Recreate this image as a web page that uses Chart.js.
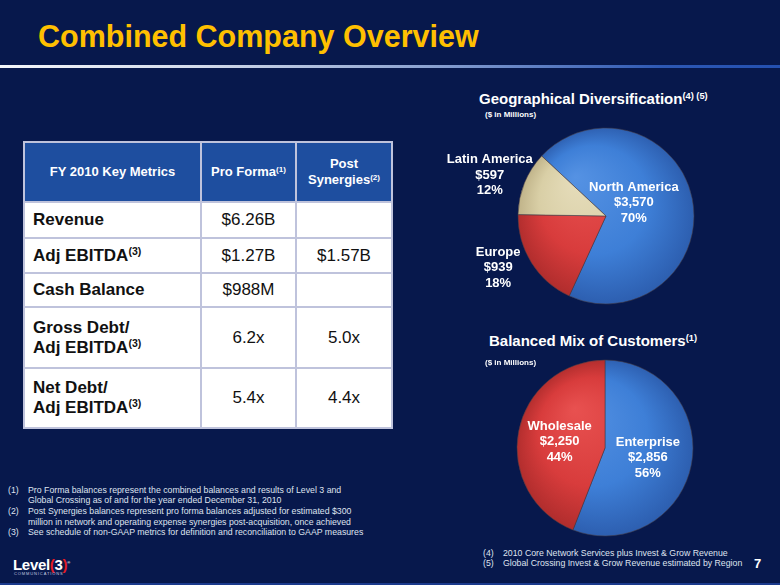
<!DOCTYPE html>
<html>
<head>
<meta charset="utf-8">
<title>Combined Company Overview</title>
<script src="https://cdn.jsdelivr.net/npm/chart.js@4.4.1/dist/chart.umd.min.js"></script>
<style>
  body {
    margin: 0;
    width: 780px;
    height: 585px;
    overflow: hidden;
    position: relative;
    background: #07184c;
    font-family: Arial, "Liberation Sans", sans-serif;
  }
  .abs { position: absolute; white-space: nowrap; }
  .title {
    left: 38px; top: 21px;
    font-size: 30.5px; line-height: 30px; font-weight: bold;
    color: #ffc000;
  }
  .rule {
    left: 0; top: 65px; width: 780px; height: 3px;
    background: linear-gradient(to right, #f4f6fa 0%, #d3dbeb 25%, #8aa1d0 55%, #2d58b4 85%, #2450b0 100%);
  }
  .chart-title {
    font-size: 15px; line-height: 18px; font-weight: bold; color: #ffffff;
  }
  .chart-title sup, .metrics sup {
    font-size: 0.62em; vertical-align: 0.55em; line-height: 0;
  }
  .units {
    font-size: 8px; line-height: 10px; font-weight: bold; color: #ffffff;
  }
  canvas { position: absolute; }
  table.metrics {
    position: absolute; left: 23px; top: 141px; width: 368px;
    border-collapse: collapse; table-layout: fixed;
  }
  .metrics th, .metrics td { border: 2px solid #bfc3dc; padding: 0; }
  .metrics th {
    background: #1e4e9f; color: #ffffff;
    font-size: 13px; line-height: 16.5px; font-weight: bold; text-align: center;
  }
  .metrics td { background: #ffffff; color: #111111; font-size: 17px; line-height: 20px; text-align: center; }
  .metrics td.name { font-weight: bold; text-align: left; padding-left: 8px; }
  .note {
    font-size: 8.75px; line-height: 10.7px; color: #dfe3ef;
  }
  .note span { display: inline-block; width: 20px; }
  .logo { left: 13px; top: 555px; font-size: 15px; line-height: 16px; font-weight: bold; color: #ffffff; letter-spacing: -0.3px; }
  .logo b { color: #e31b23; }
  .logo-sub { left: 14px; top: 572px; font-size: 4px; line-height: 4px; letter-spacing: 0.9px; color: #c8cde0; }
  .page { left: 754px; top: 557px; font-size: 13px; line-height: 14px; font-weight: bold; color: #ffffff; }
  .bottom-band { left: 0; top: 583px; width: 780px; height: 2px; background: #1a3a8c; }
</style>
</head>
<body>

<div class="abs title">Combined Company Overview</div>
<div class="abs rule"></div>

<table class="metrics" id="metrics"></table>

<canvas id="geoChart" width="360" height="195" style="left:420px; top:120px;"></canvas>
<canvas id="mixChart" width="360" height="190" style="left:420px; top:355px;"></canvas>

<div class="abs chart-title" style="left:479px; top:90px;">Geographical Diversification<sup>(4) (5)</sup></div>
<div class="abs units" style="left:485px; top:110px;">($ in Millions)</div>
<div class="abs chart-title" style="left:489px; top:332px;">Balanced Mix of Customers<sup>(1)</sup></div>
<div class="abs units" style="left:485px; top:358px;">($ in Millions)</div>

<div class="abs note" style="left:8px; top:484.6px;">
  <span>(1)</span>Pro Forma balances represent the combined balances and results of Level 3 and<br>
  <span></span>Global Crossing as of and for the year ended December 31, 2010<br>
  <span>(2)</span>Post Synergies balances represent pro forma balances adjusted for estimated $300<br>
  <span></span>million in network and operating expense synergies post-acquisition, once achieved<br>
  <span>(3)</span>See schedule of non-GAAP metrics for definition and reconciliation to GAAP measures
</div>

<div class="abs note" style="left:483px; top:547.6px;">
  <span>(4)</span>2010 Core Network Services plus Invest &amp; Grow Revenue<br>
  <span>(5)</span>Global Crossing Invest &amp; Grow Revenue estimated by Region
</div>

<div class="abs logo">Level<b>(</b>3<b>)</b><sup style="font-size:4px;">&reg;</sup></div>
<div class="abs logo-sub">COMMUNICATIONS</div>
<div class="abs page">7</div>
<div class="abs bottom-band"></div>

<script>
// Key metrics table
const tableHeaders = ['FY 2010 Key Metrics', 'Pro Forma(1)', 'Post\nSynergies(2)'];
const metricNames = ['Revenue', 'Adj EBITDA(3)', 'Cash Balance', 'Gross Debt/\nAdj EBITDA(3)', 'Net Debt/\nAdj EBITDA(3)'];
const proForma = ['$6.26B', '$1.27B', '$988M', '6.2x', '5.4x'];
const postSynergies = ['', '$1.57B', '', '5.0x', '4.4x'];

// Geographical diversification ($ in millions)
const geoRegions = ['North America', 'Europe', 'Latin America'];
const geoRevenue = [3570, 939, 597];

// Customer mix ($ in millions)
const customerTypes = ['Enterprise', 'Wholesale'];
const customerRevenue = [2856, 2250];

const fmt = s => s.replace(/\((\d)\)/g, '<sup>($1)</sup>').replace(/\n/g, '<br>');

function buildTable() {
    const table = document.getElementById('metrics');
    const colWidths = [177, 95, 96];
    const rowHeights = [36, 35, 34, 61, 60];
    let html = '<colgroup>' + colWidths.map(w => `<col style="width:${w}px">`).join('') + '</colgroup>';
    html += '<tr style="height:60px">' + tableHeaders.map(h => `<th>${fmt(h)}</th>`).join('') + '</tr>';
    metricNames.forEach((name, i) => {
        html += `<tr style="height:${rowHeights[i]}px">
            <td class="name">${fmt(name)}</td>
            <td>${proForma[i]}</td>
            <td>${postSynergies[i]}</td>
        </tr>`;
    });
    table.innerHTML = html;
}

// shaded fill, a bit lighter towards the top-left like the slide's 3D pies
const palettes = {
    blue: ['#5592e3', '#3e7fd7', '#2c5dae'],
    red: ['#e85150', '#d83c3c', '#ae2c2c'],
    tan: ['#e6ddbb', '#d9cfa6', '#bdb086']
};

function shaded(names) {
    return (c) => {
        const p = palettes[names[c.dataIndex]];
        const area = c.chart.chartArea;
        if (!area) return p[1];
        const cx = (area.left + area.right) / 2;
        const cy = (area.top + area.bottom) / 2;
        const r = c.chart.getDatasetMeta(0).data[0]?.outerRadius || 88;
        const g = c.chart.ctx.createRadialGradient(cx - 0.35 * r, cy - 0.45 * r, 0, cx, cy, r * 1.03);
        g.addColorStop(0, p[0]);
        g.addColorStop(0.6, p[1]);
        g.addColorStop(1, p[2]);
        return g;
    };
}

// label each slice with name, value and share
function sliceLabels(place) {
    return {
        id: 'sliceLabels',
        afterDatasetsDraw(chart) {
            const ctx = chart.ctx;
            const values = chart.data.datasets[0].data;
            const total = values.reduce((s, v) => s + v, 0);
            ctx.save();
            ctx.font = 'bold 13px Arial, "Liberation Sans", sans-serif';
            ctx.fillStyle = '#ffffff';
            ctx.textAlign = 'center';
            ctx.textBaseline = 'middle';
            chart.getDatasetMeta(0).data.forEach((arc, i) => {
                const angle = (arc.startAngle + arc.endAngle) / 2 + place.nudge[i] * Math.PI / 180;
                const dist = arc.outerRadius * place.dist[i];
                const x = arc.x + Math.cos(angle) * dist;
                const y = arc.y + Math.sin(angle) * dist;
                const lines = [
                    chart.data.labels[i],
                    '$' + values[i].toLocaleString('en-US'),
                    Math.round(values[i] / total * 100) + '%'
                ];
                lines.forEach((t, j) => ctx.fillText(t, x, y + (j - 1) * 15.5));
            });
            ctx.restore();
        }
    };
}

function makePie(id, labels, values, colors, rotation, padding, place) {
    return new Chart(document.getElementById(id), {
        type: 'pie',
        data: {
            labels: labels,
            datasets: [{
                data: values,
                backgroundColor: shaded(colors),
                borderColor: 'rgba(70, 60, 70, 0.55)',
                borderWidth: 1
            }]
        },
        options: {
            responsive: false,
            animation: false,
            rotation: rotation,
            radius: 88,
            layout: { padding: padding },
            plugins: {
                legend: { display: false },
                tooltip: { enabled: false }
            }
        },
        plugins: [sliceLabels(place)]
    });
}

buildTable();

makePie('geoChart', geoRegions, geoRevenue, ['blue', 'red', 'tan'], -47,
    { left: 12, bottom: 3 },
    { dist: [0.35, 1.36, 1.40], nudge: [-14, 6.5, -2.5] });

makePie('mixChart', customerTypes, customerRevenue, ['blue', 'red'], 0,
    { left: 10, bottom: 4 },
    { dist: [0.5, 0.52], nudge: [2.3, -3] });
</script>
</body>
</html>
